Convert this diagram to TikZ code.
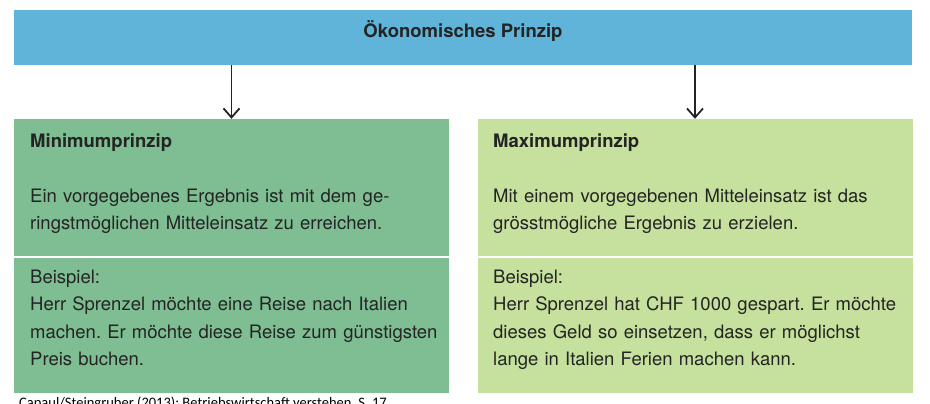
\documentclass[tikz,border=0pt]{standalone}
\usepackage{fontspec}
\setmainfont{TeX Gyre Heros}
\newfontfamily\quellefont{Carlito}
\usetikzlibrary{arrows.meta,positioning}
\frenchspacing
\definecolor{titelblau}{RGB}{96,180,218}
\definecolor{minigruen}{RGB}{127,189,147}
\definecolor{maxigruen}{RGB}{197,225,157}
\definecolor{schriftgrau}{RGB}{36,36,36}
\tikzset{
  feld/.style={rectangle,inner sep=0pt,minimum width=435pt},
  schrift/.style={anchor=north west,inner sep=0pt,text width=420pt,align=left,text=schriftgrau,
    font=\fontsize{18.5}{27.5}\selectfont},
  pfeil/.style={-{Straight Barb[length=9pt,width=16pt]},line width=1.8pt,draw=schriftgrau}
}

\begin{document}
\begin{tikzpicture}[x=1pt,y=-1pt]
\useasboundingbox (0,0) rectangle (930,404);
% Kopf
\node[feld,fill=titelblau,minimum width=898pt,minimum height=55pt] (titel) at (463,37.5) {};
\node[anchor=base,inner sep=0pt,text=schriftgrau,font=\fontsize{18.5}{22}\selectfont\bfseries] (titeltext) at (463,38) {Ökonomisches Prinzip};
% Minimumprinzip
\node[feld,fill=minigruen,minimum height=137pt] (minOben) at (231.5,187.5) {};
\node[feld,fill=minigruen,minimum height=135pt] (minUnten) at (231.5,325.5) {};
\node[schrift,font=\fontsize{18.5}{27.5}\selectfont\bfseries] (minTitel) at (30,127.75) {\strut Minimumprinzip};
\node[schrift] (minText) at (30,182.75) {\strut Ein vorgegebenes Ergebnis ist mit dem ge-\\ringstmöglichen Mitteleinsatz zu erreichen.};
\node[schrift] (minBsp) at (30,263.75) {\strut Beispiel:\\Herr Sprenzel möchte eine Reise nach Italien\\machen. Er möchte diese Reise zum günstigsten\\Preis buchen.};
% Maximumprinzip
\node[feld,fill=maxigruen,minimum height=137pt] (maxOben) at (695,187.5) {};
\node[feld,fill=maxigruen,minimum height=135pt] (maxUnten) at (695,325.5) {};
\node[schrift,font=\fontsize{18.5}{27.5}\selectfont\bfseries] (maxTitel) at (493,127.75) {\strut Maximumprinzip};
\node[schrift] (maxText) at (493,182.75) {\strut Mit einem vorgegebenen Mitteleinsatz ist das\\grösstmögliche Ergebnis zu erzielen.};
\node[schrift] (maxBsp) at (493,263.75) {\strut Beispiel:\\Herr Sprenzel hat CHF 1000 gespart. Er möchte\\dieses Geld so einsetzen, dass er möglichst\\lange in Italien Ferien machen kann.};
% Pfeile
\draw[pfeil] (titel.south -| minOben.north) -- (minOben.north);
\draw[pfeil] (titel.south -| maxOben.north) -- (maxOben.north);
% Quelle
\node[anchor=north west,inner sep=0pt,font=\quellefont\fontsize{14.5}{16}\selectfont] (quelle) at (19,397) {Capaul/Steingruber (2013): Betriebswirtschaft verstehen, S. 17};
\end{tikzpicture}
\end{document}
